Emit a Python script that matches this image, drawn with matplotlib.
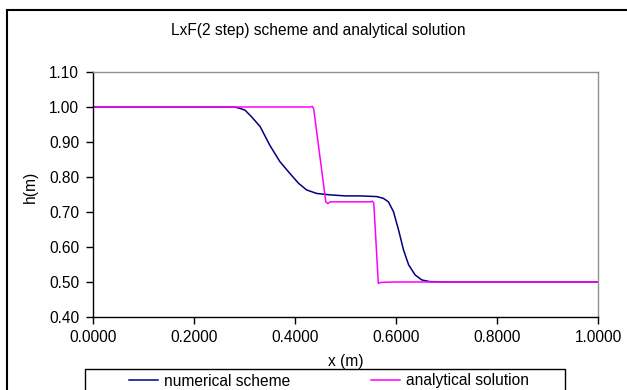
import matplotlib
matplotlib.use('Agg')
import matplotlib.pyplot as plt
import numpy as np
from matplotlib.patches import Rectangle

plt.rcParams['font.family'] = ['Liberation Sans', 'DejaVu Sans']

W, H = 627, 390

# numerical LxF (2 step) result
numerical_x = [0.0, 0.280, 0.291, 0.301, 0.314, 0.331, 0.350, 0.370, 0.390,
               0.407, 0.423, 0.443, 0.469, 0.500, 0.529, 0.562, 0.575, 0.585,
               0.595, 0.605, 0.615, 0.625, 0.638, 0.651, 0.667, 0.700, 1.0]
numerical_h = [1.0, 1.0, 0.996, 0.991, 0.972, 0.944, 0.891, 0.844, 0.810,
               0.782, 0.763, 0.753, 0.749, 0.746, 0.746, 0.744, 0.739, 0.729,
               0.701, 0.649, 0.591, 0.549, 0.520, 0.506, 0.501, 0.500, 0.500]

# analytical solution
analytical_x = [0.0, 0.431, 0.434, 0.437, 0.461, 0.465, 0.470, 0.550, 0.553,
                0.556, 0.565, 0.571, 0.600, 1.0]
analytical_h = [1.0, 1.0, 1.002, 0.995, 0.729, 0.724, 0.729, 0.729, 0.731,
                0.726, 0.496, 0.499, 0.500, 0.500]

x_ticks = [0.0, 0.2, 0.4, 0.6, 0.8, 1.0]
h_ticks = [0.4, 0.5, 0.6, 0.7, 0.8, 0.9, 1.0, 1.1]

FS = 11.2

fig = plt.figure(figsize=(W / 100, H / 100), dpi=100)
ax = fig.add_axes([93 / W, 1 - 317 / H, 505 / W, 245 / H])

line_num, = ax.plot(numerical_x, numerical_h, color='#000080', lw=1.1,
                    label='numerical scheme')
line_ana, = ax.plot(analytical_x, analytical_h, color='#FF00FF', lw=1.1,
                    label='analytical solution')

ax.set_xlim(0, 1)
ax.set_ylim(0.4, 1.1)
ax.set_xticks(x_ticks)
ax.set_yticks(h_ticks)
ax.set_xticklabels(['%.4f' % v for v in x_ticks], fontsize=FS)
ax.set_yticklabels(['%.2f' % v for v in h_ticks], fontsize=FS)
ax.tick_params(direction='out', length=5, width=1, color='black')
ax.tick_params(axis='y', pad=5)
ax.tick_params(axis='x', pad=4)

for side in ('left', 'bottom'):
    ax.spines[side].set_color('black')
    ax.spines[side].set_linewidth(1)
for side in ('top', 'right'):
    ax.spines[side].set_color('#909090')
    ax.spines[side].set_linewidth(1)

ax.set_xlabel('x (m)', fontsize=FS)
ax.xaxis.set_label_coords(0.5, -0.15)
ax.set_ylabel('h(m)', fontsize=FS)
ax.yaxis.set_label_coords(-0.11, 0.53)

fig.text(318 / W, 1 - 31 / H, 'LxF(2 step) scheme and analytical solution',
         ha='center', va='center', fontsize=FS)

# chart border and legend box
fig.patches.append(Rectangle((7 / W, -0.05), 1.0, 1 - 10 / H + 0.05,
                             transform=fig.transFigure, fill=False,
                             edgecolor='black', lw=1.5))
fig.patches.append(Rectangle((85 / W, -0.05), 480 / W, 1 - 369 / H + 0.05,
                             transform=fig.transFigure, fill=False,
                             edgecolor='black', lw=1))

fig.legend(handles=[line_num, line_ana], loc='center left',
           bbox_to_anchor=(121 / W, 1 - 381 / H), ncol=2, frameon=False,
           borderpad=0, handlelength=1.9, handletextpad=0.35,
           columnspacing=5.2, fontsize=FS)

fig.savefig('out.png', dpi=100, facecolor='white')
